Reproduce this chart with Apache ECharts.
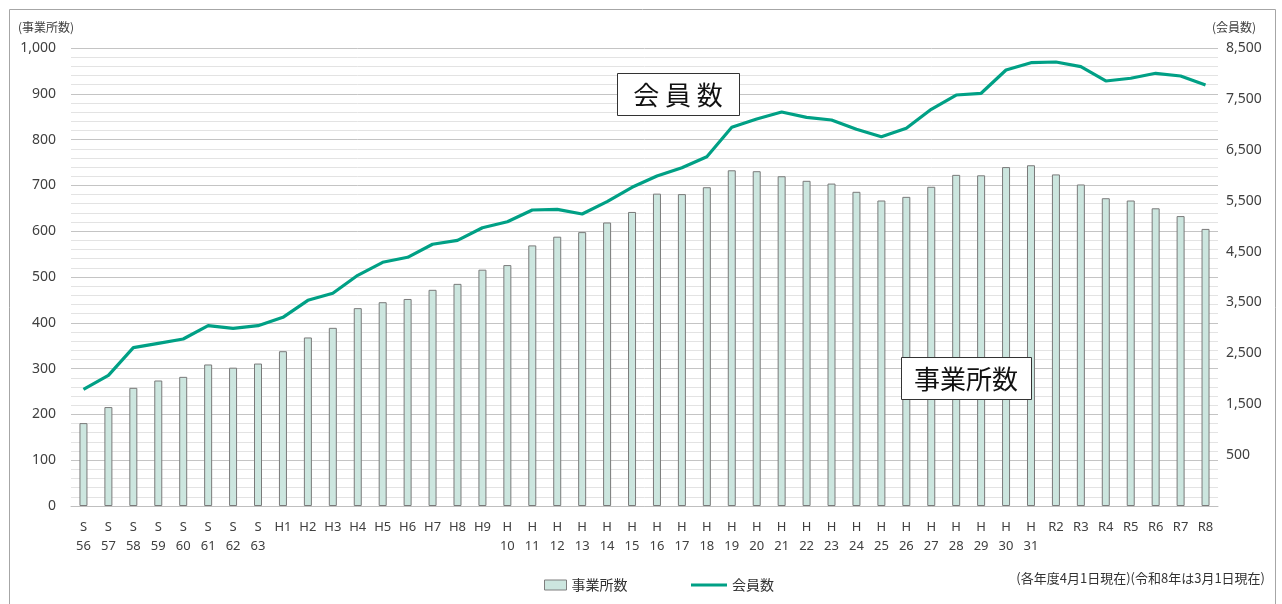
<!DOCTYPE html>
<html><head><meta charset="utf-8">
<script src="https://cdn.jsdelivr.net/npm/echarts@6/dist/echarts.min.js"></script>
<style>html,body{margin:0;padding:0;background:#fff}#c{width:1282px;height:604px}</style>
</head><body><div id="c"></div>
<script>
const categories = ['S\n56','S\n57','S\n58','S\n59','S\n60','S\n61','S\n62','S\n63',
 'H1','H2','H3','H4','H5','H6','H7','H8','H9',
 'H\n10','H\n11','H\n12','H\n13','H\n14','H\n15','H\n16','H\n17','H\n18','H\n19','H\n20',
 'H\n21','H\n22','H\n23','H\n24','H\n25','H\n26','H\n27','H\n28','H\n29','H\n30','H\n31',
 'R2','R3','R4','R5','R6','R7','R8'];
const offices = [181,216,258,274,282,309,302,311,
 338,368,389,432,445,452,472,485,516,
 526,569,588,598,619,642,682,681,696,733,731,
 720,710,704,686,667,675,697,723,722,740,744,
 724,702,672,667,650,633,605];
const members = [1793,2068,2611,2697,2782,3043,2992,3043,
 3208,3542,3680,4033,4289,4387,4643,4721,4967,
 5087,5317,5330,5238,5480,5763,5985,6148,6364,6942,7105,
 7242,7138,7085,6902,6757,6922,7295,7576,7610,8068,8211,
 8225,8133,7852,7905,8003,7950,7773];
const leftTicks = {min:0, max:1000, interval:100};
const rightTicks = {min:-500, max:8500, interval:1000};

const FONT = '"Noto Sans", "Noto Sans CJK JP", sans-serif';
const JP = '"Noto Sans CJK JP", sans-serif';
const chart = echarts.init(document.getElementById('c'), null, {renderer:'canvas'});
const fmt = v => v < 0 ? '' : v.toLocaleString('en-US');
chart.setOption({
  animation:false,
  textStyle:{fontFamily:FONT},
  grid:{left:71, right:64, top:48, bottom:98, containLabel:false},
  legend:[{
    left:539, top:573, itemWidth:22, itemHeight:10, itemGap:2,
    textStyle:{fontFamily:JP, fontSize:14, color:'#333'},
    data:[{name:'事業所数', icon:'rect', itemStyle:{color:'#cce6df', borderColor:'#7f7f7f', borderWidth:1}}]
  },{
    left:686, top:573, itemWidth:36, itemHeight:3,
    textStyle:{fontFamily:JP, fontSize:14, color:'#333'},
    data:[{name:'会員数', icon:'rect'}]
  }],
  xAxis:{
    type:'category', data:categories,
    axisLine:{lineStyle:{color:'#bfbfbf', width:1}},
    axisTick:{show:false},
    axisLabel:{interval:0, color:'#404040', fontSize:13, lineHeight:19, margin:12, fontFamily:FONT}
  },
  yAxis:[{
    type:'value', min:leftTicks.min, max:leftTicks.max, interval:leftTicks.interval,
    axisLine:{show:false}, axisTick:{show:false},
    axisLabel:{color:'#404040', fontSize:14, margin:15, formatter:fmt, fontFamily:FONT},
    splitLine:{lineStyle:{color:'#c4c4c4', width:1}},
    minorTick:{show:false, splitNumber:5},
    minorSplitLine:{show:true, lineStyle:{color:'#e3e3e3', width:1}}
  },{
    type:'value', min:rightTicks.min, max:rightTicks.max, interval:rightTicks.interval,
    axisLine:{show:false}, axisTick:{show:false}, splitLine:{show:false},
    axisLabel:{color:'#404040', fontSize:14, margin:8, formatter:fmt, fontFamily:FONT}
  }],
  series:[{
    name:'事業所数', type:'bar', yAxisIndex:0, data:offices, barWidth:8,
    itemStyle:{color:'#cce6df', borderColor:'#7a7a7a', borderWidth:1}
  },{
    name:'会員数', type:'line', yAxisIndex:1, data:members, symbol:'none',
    lineStyle:{color:'#00a085', width:3.2}, itemStyle:{color:'#00a085'}
  }],
  graphic:[
    {type:'rect', shape:{x:9.5, y:9.5, width:1266, height:620}, style:{fill:'none', stroke:'#a6a6a6', lineWidth:1}, silent:true, z:-1},
    {type:'text', left:18, top:21, style:{text:'(事業所数)', font:'12px '+JP, fill:'#404040'}},
    {type:'text', left:1212, top:21, style:{text:'(会員数)', font:'12px '+JP, fill:'#404040'}},
    {type:'group', left:617, top:73, z:100, children:[
      {type:'rect', z:100, shape:{x:0.5, y:0.5, width:122, height:42}, style:{fill:'#fff', stroke:'#333', lineWidth:1}},
      {type:'text', z:101, x:61, y:22, style:{text:'会 員 数', font:'26px '+JP, fill:'#111', align:'center', verticalAlign:'middle'}}
    ]},
    {type:'group', left:901, top:357, z:100, children:[
      {type:'rect', z:100, shape:{x:0.5, y:0.5, width:130, height:42}, style:{fill:'#fff', stroke:'#333', lineWidth:1}},
      {type:'text', z:101, x:65, y:22, style:{text:'事業所数', font:'26px '+JP, fill:'#111', align:'center', verticalAlign:'middle'}}
    ]},
    {type:'text', right:17, top:572, style:{text:'(各年度4月1日現在)(令和8年は3月1日現在)', font:'13px '+JP, fill:'#333'}}
  ]
});
</script></body></html>
